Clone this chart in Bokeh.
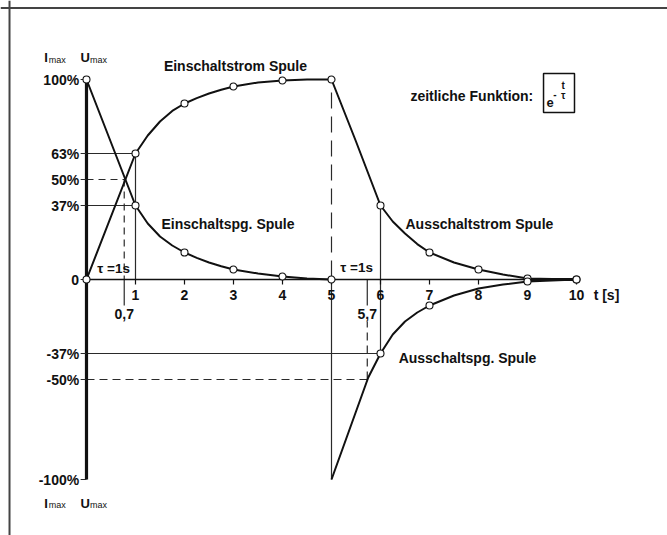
from bokeh.plotting import figure
from bokeh.models import Range1d, Span, BoxAnnotation
from bokeh.core.properties import value
from bokeh.embed import file_html
from bokeh.resources import INLINE

# ---------------- data ----------------
y_tick_values = [1.0, 0.63, 0.5, 0.37, 0.0, -0.37, -0.5, -1.0]
y_tick_labels = ["100%", "63%", "50%", "37%", "0", "-37%", "-50%", "-100%"]
x_tick_values = [1, 2, 3, 4, 5, 6, 7, 8, 9, 10]
x_tick_labels = ["1", "2", "3", "4", "5", "6", "7", "8", "9", "10"]

# switching on (0..5 s)
t_on = [0, 1, 1.25, 1.5, 1.75, 2, 2.25, 2.5, 2.75, 3, 3.5, 4, 4.5, 5]
strom_on = [0.0, 0.63, 0.72, 0.79, 0.843, 0.88, 0.907, 0.93, 0.949, 0.965, 0.985, 0.995, 1.0, 1.0]
spg_on = [1.0, 0.37, 0.28, 0.215, 0.17, 0.135, 0.108, 0.085, 0.066, 0.05, 0.03, 0.015, 0.005, 0.0]

# switching off (5..10 s)
t_off = [5, 5.25, 5.5, 5.75, 6, 6.25, 6.5, 6.75, 7, 7.5, 8, 8.5, 9, 10]
strom_off = [1.0, 0.845, 0.69, 0.53, 0.37, 0.29, 0.23, 0.177, 0.135, 0.085, 0.05, 0.025, 0.005, 0.0]
spg_off = [-1.0, -0.83, -0.66, -0.49, -0.37, -0.275, -0.21, -0.165, -0.13, -0.08, -0.045, -0.025, -0.01, 0.0]

# times at which the curves carry a small circle
marks_strom_on = [0, 1, 2, 3, 4, 5]
marks_spg_on = [0, 1, 2, 3, 4, 5]
marks_strom_off = [6, 7, 8, 9, 10]
marks_spg_off = [6, 7, 9, 10]

tau = 1.0
t_switch = 5.0
level_50 = 0.5
t_half_on = 0.77
t_half_off = 5.73
t_half_on_label = "0,7"
t_half_off_label = "5,7"

curve_labels = ["Einschaltstrom Spule", "Einschaltspg. Spule", "Ausschaltstrom Spule", "Ausschaltspg. Spule"]

# ---------------- figure ----------------
FONT = value("Liberation Sans")
INK = "#111111"
GUIDE = "#2a2a2a"

p = figure(width=667, height=535, output_backend="svg", toolbar_location=None,
           x_range=Range1d(-1.755, 11.857), y_range=Range1d(-1.28, 1.395),
           x_axis_type=None, y_axis_type=None, min_border=0,
           outline_line_color=None, background_fill_color="white",
           border_fill_color="white")
p.grid.visible = False

# frame lines (top and left)
p.add_layout(Span(location=1.358, dimension="width", line_color="#444444", line_width=2))
p.add_layout(Span(location=-1.571, dimension="height", line_color="#444444", line_width=2))


def pick(ts, vs, marks):
    xs, ys = [], []
    for t, v in zip(ts, vs):
        if t in marks:
            xs.append(t)
            ys.append(v)
    return xs, ys


v_tau_strom = strom_on[t_on.index(tau)]
v_tau_spg = spg_on[t_on.index(tau)]
v_off_strom = strom_off[t_off.index(t_switch + tau)]
v_off_spg = spg_off[t_off.index(t_switch + tau)]

# ---- guide lines (solid) ----
p.segment(x0=[0, 0, tau, 0, t_switch + tau, t_half_on, t_half_off],
          y0=[v_tau_strom, v_tau_spg, v_tau_strom, v_off_spg, v_off_strom, 0, 0],
          x1=[tau, tau, tau, t_switch + tau, t_switch + tau, t_half_on, t_half_off],
          y1=[v_tau_strom, v_tau_spg, 0, v_off_spg, v_off_spg, -0.13, -0.13],
          line_color=GUIDE, line_width=1.2)
# solid vertical below the axis at t=5
p.segment(x0=[t_switch], y0=[0], x1=[t_switch], y1=[spg_off[0]], line_color=GUIDE, line_width=1.2)
# dashed 50% guides
p.segment(x0=[0, t_half_on], y0=[level_50, level_50], x1=[t_half_on, t_half_on], y1=[level_50, 0],
          line_color=GUIDE, line_width=1.2, line_dash="7 5")
p.segment(x0=[0, t_half_off], y0=[-level_50, -level_50], x1=[t_half_off, t_half_off], y1=[-level_50, -0.21],
          line_color=GUIDE, line_width=1.2, line_dash="8 5")
# long dashed vertical at t=5 above the axis
p.segment(x0=[t_switch], y0=[0.935], x1=[t_switch], y1=[0], line_color=GUIDE, line_width=1.2,
          line_dash="16 8")

# ---- axes ----
p.segment(x0=[0], y0=[0], x1=[x_tick_values[-1]], y1=[0], line_color=INK, line_width=1.6)
p.segment(x0=[0], y0=[y_tick_values[-1]], x1=[0], y1=[y_tick_values[0]], line_color=INK, line_width=3.2)
# ticks
p.segment(x0=x_tick_values, y0=[0] * len(x_tick_values), x1=x_tick_values,
          y1=[-0.025] * len(x_tick_values), line_color=INK, line_width=1.2)
p.segment(x0=[-0.12] * len(y_tick_values), y0=y_tick_values, x1=[0] * len(y_tick_values),
          y1=y_tick_values, line_color=GUIDE, line_width=1.2)

# ---- curves ----
for ts, vs in [(t_on, strom_on), (t_on, spg_on), (t_off, strom_off), (t_off, spg_off)]:
    p.line(ts, vs, line_color=INK, line_width=2.0, line_join="round")
# thickened tail where both off curves merge
p.line(t_off[-2:], [0.0, 0.0], line_color=INK, line_width=3.0)

# ---- markers ----
for ts, vs, mk in [(t_on, strom_on, marks_strom_on), (t_on, spg_on, marks_spg_on),
                   (t_off, strom_off, marks_strom_off), (t_off, spg_off, marks_spg_off)]:
    xs, ys = pick(ts, vs, mk)
    p.scatter(xs, ys, marker="circle", size=7, fill_color="white", line_color=INK, line_width=1.1)

# ---- tick labels ----
p.text(x=[-0.15] * len(y_tick_values), y=y_tick_values, text=y_tick_labels,
       text_font=FONT, text_font_style="bold", text_font_size="14px",
       text_align="right", text_baseline="middle", text_color=INK)
p.text(x=x_tick_values, y=[-0.075] * len(x_tick_values), text=x_tick_labels,
       text_font=FONT, text_font_style="bold", text_font_size="14px",
       text_align="center", text_baseline="middle", text_color=INK)
p.text(x=[10.35], y=[-0.075], text=["t [s]"], text_font=FONT, text_font_style="bold",
       text_font_size="14px", text_align="left", text_baseline="middle", text_color=INK)
p.text(x=[t_half_on, t_half_off], y=[-0.17, -0.17], text=[t_half_on_label, t_half_off_label],
       text_font=FONT, text_font_style="bold", text_font_size="14px",
       text_align="center", text_baseline="middle", text_color=INK,
       background_fill_color="white")
p.text(x=[0.22, 5.18], y=[0.055, 0.06], text=["\u03c4 =1s", "\u03c4 =1s"],
       text_font=FONT, text_font_style="bold", text_font_size="13.5px",
       text_align="left", text_baseline="middle", text_color=INK)

# ---- curve names ----
p.text(x=[3.04], y=[1.07], text=[curve_labels[0]], text_font=FONT, text_font_style="bold",
       text_font_size="14px", text_align="center", text_baseline="middle", text_color=INK)
p.text(x=[1.53, 6.51, 6.37], y=[0.28, 0.28, -0.39], text=curve_labels[1:],
       text_font=FONT, text_font_style="bold", text_font_size="14px",
       text_align="left", text_baseline="middle", text_color=INK)

# ---- I max / U max ----
for yb, ys in [(1.11, 1.1), (-1.118, -1.128)]:
    p.text(x=[-0.86, -0.122], y=[yb, yb], text=["I", "U"], text_font=FONT, text_font_style="bold",
           text_font_size="13px", text_align="left", text_baseline="alphabetic", text_color=INK)
    p.text(x=[-0.77, 0.07], y=[ys, ys], text=["max", "max"], text_font=FONT,
           text_font_size="9px", text_align="left", text_baseline="alphabetic", text_color=INK)

# ---- time function box ----
p.text(x=[6.61], y=[0.92], text=["zeitliche Funktion:"], text_font=FONT, text_font_style="bold",
       text_font_size="14px", text_align="left", text_baseline="middle", text_color=INK)
p.add_layout(BoxAnnotation(left=9.327, right=9.959, top=1.03, bottom=0.835,
                           fill_color=None, fill_alpha=0, line_color=INK, line_alpha=1.0,
                           line_width=1.5))
p.text(x=[9.39], y=[0.885], text=["e"], text_font=FONT, text_font_style="bold",
       text_font_size="13px", text_align="left", text_baseline="middle", text_color=INK)
p.text(x=[9.56], y=[0.93], text=["-"], text_font=FONT, text_font_style="bold",
       text_font_size="10px", text_align="center", text_baseline="middle", text_color=INK)
p.text(x=[9.73, 9.73], y=[0.972, 0.922], text=["t", "\u03c4"], text_font=FONT, text_font_style="bold",
       text_font_size="10px", text_align="center", text_baseline="middle", text_color=INK)

open("out.html", "w").write(file_html(p, INLINE))
